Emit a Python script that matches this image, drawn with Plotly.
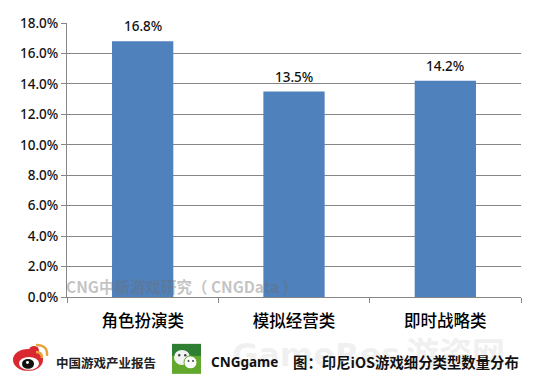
import plotly.graph_objects as go

categories = ["角色扮演类", "模拟经营类", "即时战略类"]
values = [16.8, 13.5, 14.2]
labels = ["16.8%", "13.5%", "14.2%"]
tick_vals = [0, 2, 4, 6, 8, 10, 12, 14, 16, 18]
tick_text = ["0.0%", "2.0%", "4.0%", "6.0%", "8.0%", "10.0%", "12.0%", "14.0%", "16.0%", "18.0%"]

W, H = 535, 387
L, R, T, B = 67, 521, 22.5, 297
CJK = "Noto Sans CJK SC"
LAT = "Noto Sans"
AXIS = "#868686"


def dx(x):
    return (x - L) / (R - L)


def dy(y):
    return (B - y) / (B - T)


def oval(x0, x1, y0, y1, fill, line=None):
    return dict(type="circle", xref="x domain", yref="y domain", layer="above",
                x0=dx(x0), x1=dx(x1), y0=dy(y1), y1=dy(y0), fillcolor=fill,
                line=line or dict(width=0))


def box(x0, x1, y0, y1, fill):
    return dict(type="rect", xref="x domain", yref="y domain", layer="above",
                x0=dx(x0), x1=dx(x1), y0=dy(y1), y1=dy(y0), fillcolor=fill,
                line=dict(width=0))


def arc(x0, y0, cx, cy, x1, y1, color, width):
    return dict(type="path", xref="x domain", yref="y domain", layer="above",
                path=f"M {dx(x0)} {dy(y0)} Q {dx(cx)} {dy(cy)} {dx(x1)} {dy(y1)}",
                line=dict(color=color, width=width))


shapes = [
    # Weibo logo
    oval(13, 43, 349, 371, "#d9282f"),
    oval(29, 39, 346, 356, "#d9282f"),
    oval(19, 39, 357, 370, "#ffffff"),
    oval(22, 34, 359, 369, "#111111"),
    oval(26, 29, 361, 364, "#ffffff"),
    arc(36, 352, 42, 352, 42, 358, "#e8a33a", 2.5),
    arc(36, 345, 48, 345, 47, 356, "#e8a33a", 2.5),
    # WeChat logo
    box(172, 201, 344, 374, "#62a82c"),
    box(172, 201, 344, 356, "#2f7f33"),
    oval(174, 190, 350, 365, "#f2f2f2"),
    oval(184, 197, 356, 369, "#ffffff", dict(width=1, color="#62a82c")),
    oval(178, 180.5, 354, 356.5, "#444444"),
    oval(184, 186.5, 354, 356.5, "#444444"),
    oval(187.5, 189.5, 360, 362, "#444444"),
    oval(192, 194, 360, 362, "#444444"),
]

annotations = [
    dict(text=t, x=c, y=v, yshift=15, showarrow=False, xanchor="center", yanchor="middle",
         font=dict(family=LAT, size=13.5, color="#111111", weight=500))
    for c, v, t in zip(categories, values, labels)
]


def note(text, x, y, size, color, family=CJK, weight="normal"):
    annotations.append(dict(
        text=text, x=dx(x - 2), y=dy(y), xref="x domain", yref="y domain", showarrow=False,
        xanchor="left", yanchor="middle",
        font=dict(family=family, size=size, color=color, weight=weight),
    ))


note("CNG中新游戏研究（ CNGData ）", 66, 286, 15.5, "rgba(110,110,110,0.42)", weight="bold")
note("GameRes", 232, 355, 32, "rgba(190,190,190,0.22)", "DejaVu Sans", "bold")
note("游资网", 406, 352, 33, "rgba(190,190,190,0.24)", weight="bold")
note("中国游戏产业报告", 56, 363, 12.5, "#222222", weight="bold")
note("CNGgame", 211, 362, 13.5, "#111111", LAT, "bold")
note("图：印尼iOS游戏细分类型数量分布", 293, 362, 14.4, "#111111", weight="bold")

fig = go.Figure(go.Bar(
    x=categories, y=values, marker=dict(color="#4f81bd", line=dict(width=0)),
    width=0.405, hoverinfo="skip",
))

fig.update_layout(
    width=W, height=H, showlegend=False,
    margin=dict(l=L, r=W - R, t=T, b=H - B, pad=0),
    paper_bgcolor="#ffffff", plot_bgcolor="#ffffff",
    shapes=shapes, annotations=annotations,
    xaxis=dict(
        showgrid=False, showline=True, linecolor=AXIS, linewidth=1,
        tickson="boundaries", ticks="outside", ticklen=5, tickcolor=AXIS,
        tickfont=dict(family=CJK, size=16.5, color="#000000", weight=500),
        ticklabelstandoff=9, zeroline=False,
    ),
    yaxis=dict(
        range=[0, 18], tickvals=tick_vals, ticktext=tick_text,
        showgrid=True, gridcolor=AXIS, gridwidth=1,
        showline=True, linecolor=AXIS, linewidth=1, zeroline=False,
        ticks="outside", ticklen=5, tickcolor=AXIS,
        tickfont=dict(family=LAT, size=13.5, color="#111111", weight=500),
    ),
)
fig.write_html("out.html", config=dict(displayModeBar=False),
               post_script="document.body.style.margin='0';")
